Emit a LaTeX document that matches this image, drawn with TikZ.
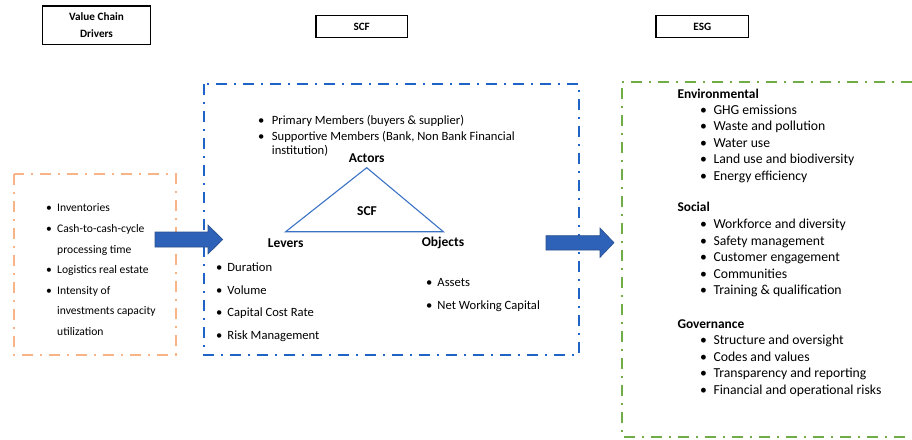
\documentclass[tikz,border=0pt]{standalone}
\usepackage{fontspec}
\setmainfont{Carlito}
\definecolor{scfblue}{HTML}{1F63C6}
\definecolor{esggreen}{HTML}{70AD47}
\definecolor{vcorange}{HTML}{F8B487}
\definecolor{arrowfill}{HTML}{2E62B9}
\definecolor{arrowline}{HTML}{2A4F8E}
\definecolor{triblue}{HTML}{3A72C4}
\begin{document}
\begin{tikzpicture}[x=1pt,y=-1pt,
  titlebox/.style={draw=black,line width=1.3pt,inner sep=0pt,align=center,font=\bfseries\fontsize{11.2}{17}\selectfont},
  dashbox/.style={line width=2pt,dash pattern=on 11pt off 7pt on 2pt off 7pt},
  itm/.style={anchor=west,inner sep=0pt,text height=0.7em,text depth=0.2em},
  vcitem/.style={itm,font=\fontsize{11.6}{13}\selectfont},
  scfitem/.style={itm,font=\fontsize{12.6}{14}\selectfont},
  lvitem/.style={itm,font=\fontsize{12.6}{14}\selectfont},
  esgitem/.style={itm,font=\fontsize{13.7}{15}\selectfont},
  esghead/.style={itm,font=\bfseries\fontsize{13.4}{15}\selectfont},
  trilabel/.style={inner sep=0pt,font=\bfseries\fontsize{13.5}{15}\selectfont},
  blockarrow/.style={fill=arrowfill,draw=arrowline,line width=0.6pt,line join=miter}
]
\useasboundingbox (0,0) rectangle (912,439);

% title boxes
\node[titlebox,minimum width=107.6pt,minimum height=38.3pt] (vcd) at (96.5,25.2) {Value Chain\\Drivers};
\node[titlebox,minimum width=91.3pt,minimum height=21.6pt] (scft) at (361.7,26.5) {SCF};
\node[titlebox,minimum width=92.7pt,minimum height=22pt] (esgt) at (702.3,26.7) {ESG};

% dash-dot frames
\draw[dashbox,draw=vcorange] (14.3,174) rectangle (175.7,355);
\draw[dashbox,draw=scfblue] (204,84) rectangle (579,355);
\draw[dashbox,draw=esggreen] (912,81.7) -- (621.7,81.7) -- (621.7,436.7) -- (912,436.7);

% block arrows
\draw[blockarrow] (155,232) -- (208,232) -- (208,225) -- (222.7,239.5) -- (208,254) -- (208,247) -- (155,247) -- cycle;
\draw[blockarrow] (546,235.7) -- (600,235.7) -- (600,228) -- (614,242.7) -- (600,257.4) -- (600,250) -- (546,250) -- cycle;

% value chain drivers list
\node[vcitem] (o1) at (46,209) {\makebox[11pt][l]{•}Inventories};
\node[vcitem] (o2) at (46,230) {\makebox[11pt][l]{•}Cash-to-cash-cycle};
\node[vcitem] (o2b) at (57,251) {processing time};
\node[vcitem] (o3) at (46,271) {\makebox[11pt][l]{•}Logistics real estate};
\node[vcitem] (o4) at (46,292) {\makebox[11pt][l]{•}Intensity of};
\node[vcitem] (o4b) at (57,312) {investments capacity};
\node[vcitem] (o4c) at (57,333) {utilization};

% SCF triangle
\coordinate (ta) at (366.7,167.7);
\coordinate (tl) at (285.7,231.7);
\coordinate (tr) at (443.3,231.7);
\draw[triblue,line width=1.1pt,line join=miter] (ta) -- (tr) -- (tl) -- cycle;
\node[trilabel] (actors) at (366.7,158) {Actors};
\node[trilabel] (scfc) at (367,211) {SCF};
\node[trilabel] (levers) at (285.7,242.7) {Levers};
\node[trilabel] (objects) at (443,242.7) {Objects};

% actors list
\node[scfitem] (a1) at (258,122.3) {\makebox[13.7pt][l]{•}Primary Members (buyers \& supplier)};
\node[scfitem] (a2) at (258,137.7) {\makebox[13.7pt][l]{•}Supportive Members (Bank, Non Bank Financial};
\node[scfitem] (a2b) at (271.7,152.3) {institution)};

% levers list
\node[lvitem] (l1) at (216,269) {\makebox[11.3pt][l]{•}Duration};
\node[lvitem] (l2) at (216,291.7) {\makebox[11.3pt][l]{•}Volume};
\node[lvitem] (l3) at (216,314.3) {\makebox[11.3pt][l]{•}Capital Cost Rate};
\node[lvitem] (l4) at (216,336.7) {\makebox[11.3pt][l]{•}Risk Management};

% objects list
\node[lvitem] (b1) at (426,284) {\makebox[11.3pt][l]{•}Assets};
\node[lvitem] (b2) at (426,307.3) {\makebox[11.3pt][l]{•}Net Working Capital};

% ESG list
\node[esghead] (env) at (677.3,95.7) {Environmental};
\node[esgitem] (e1) at (700,111.7) {\makebox[13.3pt][l]{•}GHG emissions};
\node[esgitem] (e2) at (700,128.3) {\makebox[13.3pt][l]{•}Waste and pollution};
\node[esgitem] (e3) at (700,144.7) {\makebox[13.3pt][l]{•}Water use};
\node[esgitem] (e4) at (700,161.3) {\makebox[13.3pt][l]{•}Land use and biodiversity};
\node[esgitem] (e5) at (700,178) {\makebox[13.3pt][l]{•}Energy efficiency};

\node[esghead] (soc) at (677.3,209.3) {Social};
\node[esgitem] (s1) at (700,226) {\makebox[13.3pt][l]{•}Workforce and diversity};
\node[esgitem] (s2) at (700,242.7) {\makebox[13.3pt][l]{•}Safety management};
\node[esgitem] (s3) at (700,259) {\makebox[13.3pt][l]{•}Customer engagement};
\node[esgitem] (s4) at (700,275.7) {\makebox[13.3pt][l]{•}Communities};
\node[esgitem] (s5) at (700,292.3) {\makebox[13.3pt][l]{•}Training \& qualification};

\node[esghead] (gov) at (677.3,325.7) {Governance};
\node[esgitem] (g1) at (700,342) {\makebox[13.3pt][l]{•}Structure and oversight};
\node[esgitem] (g2) at (700,358.7) {\makebox[13.3pt][l]{•}Codes and values};
\node[esgitem] (g3) at (700,375.3) {\makebox[13.3pt][l]{•}Transparency and reporting};
\node[esgitem] (g4) at (700,392) {\makebox[13.3pt][l]{•}Financial and operational risks};
\end{tikzpicture}
\end{document}
